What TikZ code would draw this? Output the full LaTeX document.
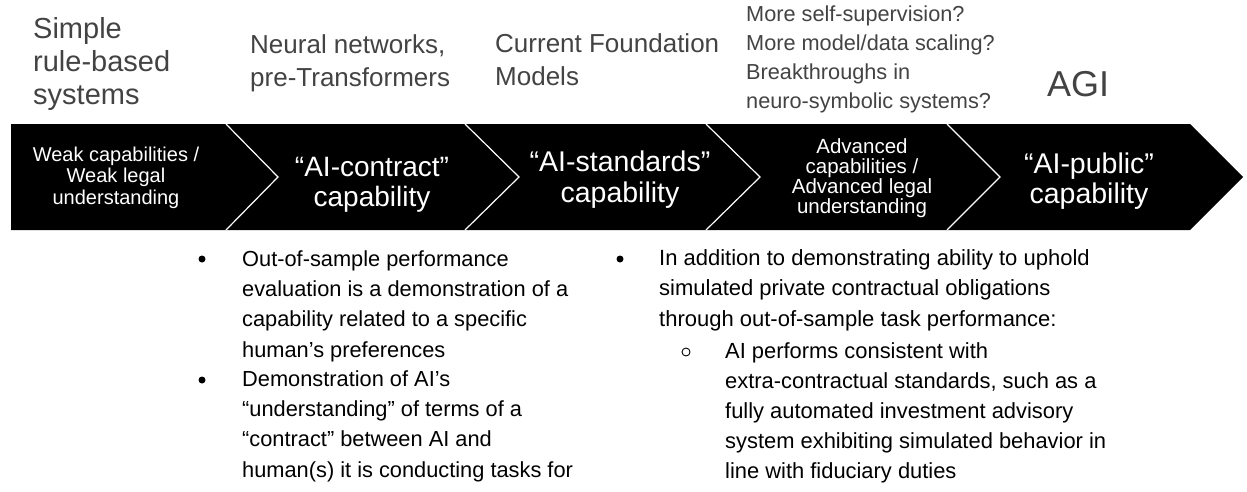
\documentclass[tikz,border=0pt]{standalone}
\usepackage{fontspec}
\setmainfont{Liberation Sans}
\definecolor{topgray}{HTML}{434343}
\begin{document}
\begin{tikzpicture}[x=1pt,y=-1pt,
  toptext/.style={text=topgray, inner sep=0, align=left, anchor=base west},
  bandtext/.style={text=white, inner sep=0, align=center, anchor=base},
  listtext/.style={text=black, inner sep=0, align=left, anchor=base west, font=\fontsize{21.8}{30.2}\selectfont},
  dot/.style={circle, fill=black, inner sep=0, minimum size=7pt},
  ring/.style={circle, draw=black, line width=0.9pt, inner sep=0, minimum size=8pt},
  sep/.style={draw=white, line width=1.2pt}
]
\useasboundingbox (0,0) rectangle (1247,491);
\fill[white] (0,0) rectangle (1247,491);
% band
\fill[black] (11,124) -- (1190,124) -- (1243,177) -- (1190,230) -- (11,230) -- cycle;
\foreach \a/\b in {226/278, 465/519, 706/760, 947/1000}
  \draw[sep] (\a,124) -- (\b,177) -- (\a,230);
% top texts (anchor = baseline of last line)
\node[toptext, font=\fontsize{29}{33}\selectfont] (simple) at (33,104) {Simple\\rule-based\\systems};
\node[toptext, font=\fontsize{26}{33}\selectfont] (neural) at (250,86) {Neural networks,\\pre-Transformers};
\node[toptext, font=\fontsize{26}{33}\selectfont] (current) at (495,85) {Current Foundation\\Models};
\node[toptext, font=\fontsize{21.7}{28.7}\selectfont] (more) at (746,108) {More self-supervision?\\More model/data scaling?\\Breakthroughs in\\neuro-symbolic systems?};
\node[toptext, anchor=base, font=\fontsize{36}{40}\selectfont] (agi) at (1078,96) {AGI};
% band texts
\node[bandtext, font=\fontsize{20}{21.5}\selectfont] (weak) at (116,204) {Weak capabilities /\\Weak legal\\understanding};
\node[bandtext, font=\fontsize{28}{30}\selectfont] (contract) at (372,206) {“AI-contract”\\capability};
\node[bandtext, font=\fontsize{28.5}{31}\selectfont] (standards) at (620,202) {“AI-standards”\\capability};
\node[bandtext, font=\fontsize{20.5}{20}\selectfont] (advanced) at (862,213) {Advanced\\capabilities /\\Advanced legal\\understanding};
\node[bandtext, font=\fontsize{28.5}{30}\selectfont] (public) at (1089,203) {“AI-public”\\capability};
% lists
\node[dot] (d1) at (202,259) {};
\node[listtext] (l1) at (242,357) {Out-of-sample performance\\evaluation is a demonstration of a\\capability related to a specific\\human’s preferences};
\node[dot] (d2) at (202,380) {};
\node[listtext] (l2) at (242,477) {Demonstration of AI’s\\“understanding” of terms of a\\“contract” between AI and\\human(s) it is conducting tasks for};
\node[dot] (d3) at (620,259) {};
\node[listtext, font=\fontsize{22}{30.2}\selectfont] (r1) at (659,326) {In addition to demonstrating ability to uphold\\simulated private contractual obligations\\through out-of-sample task performance:};
\node[ring] (d4) at (686,352) {};
\node[listtext, font=\fontsize{21.9}{29.8}\selectfont] (r2) at (725,478) {AI performs consistent with\\extra-contractual standards, such as a\\fully automated investment advisory\\system exhibiting simulated behavior in\\line with fiduciary duties};
\end{tikzpicture}
\end{document}
